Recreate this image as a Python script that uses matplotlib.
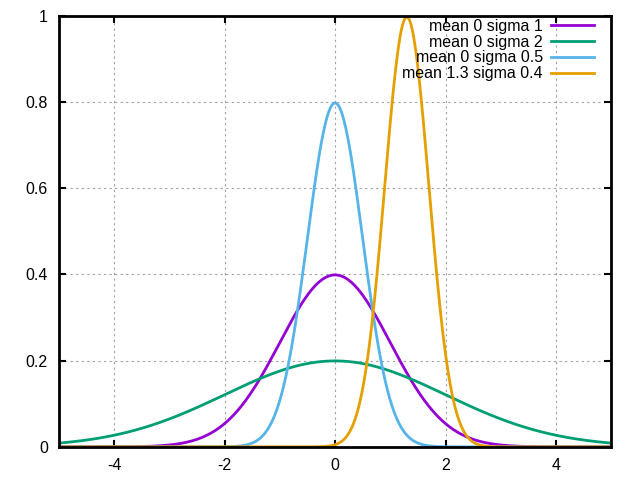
import numpy as np
import matplotlib.pyplot as plt

plt.rcParams['font.family'] = ['Liberation Sans', 'DejaVu Sans']

# parameters shown in the legend
means = [0, 0, 0, 1.3]
sigmas = [1, 2, 0.5, 0.4]
labels = ["mean 0 sigma 1", "mean 0 sigma 2", "mean 0 sigma 0.5", "mean 1.3 sigma 0.4"]
colors = ["#9400d3", "#009e73", "#56b4e9", "#e69f00"]

xticks = [-4, -2, 0, 2, 4]
yticks = [0, 0.2, 0.4, 0.6, 0.8, 1]
ytick_labels = ["0", "0.2", "0.4", "0.6", "0.8", "1"]

fig = plt.figure(figsize=(6.4, 4.8), dpi=100)
ax = fig.add_axes([0.092, 0.069, 0.863, 0.898])

x = np.linspace(-5, 5, 600)
for m, s, lab, c in zip(means, sigmas, labels, colors):
    y = np.exp(-0.5 * ((x - m) / s) ** 2) / (s * np.sqrt(2 * np.pi))
    ax.plot(x, y, color=c, lw=2.0, label=lab)

ax.set_xlim(-5, 5)
ax.set_ylim(0, 1)
ax.set_xticks(xticks)
ax.set_xticklabels([str(t) for t in xticks])
ax.set_yticks(yticks)
ax.set_yticklabels(ytick_labels)
ax.grid(True, color="#a0a0a0", linestyle=(0, (2, 3)), lw=0.8)
ax.tick_params(direction="in", length=5, width=1.5, top=True, right=True,
               labelsize=11.5, pad=8)
for sp in ax.spines.values():
    sp.set_linewidth(2)

leg = ax.legend(loc="upper right", frameon=False, markerfirst=False,
                fontsize=11.5, handlelength=2.7, labelspacing=0.05,
                borderaxespad=0.0, handletextpad=0.5,
                bbox_to_anchor=(0.980, 1.008))
for t in leg.get_texts():
    t.set_ha("right")
leg._legend_box.align = "right"

plt.savefig("out.png")
